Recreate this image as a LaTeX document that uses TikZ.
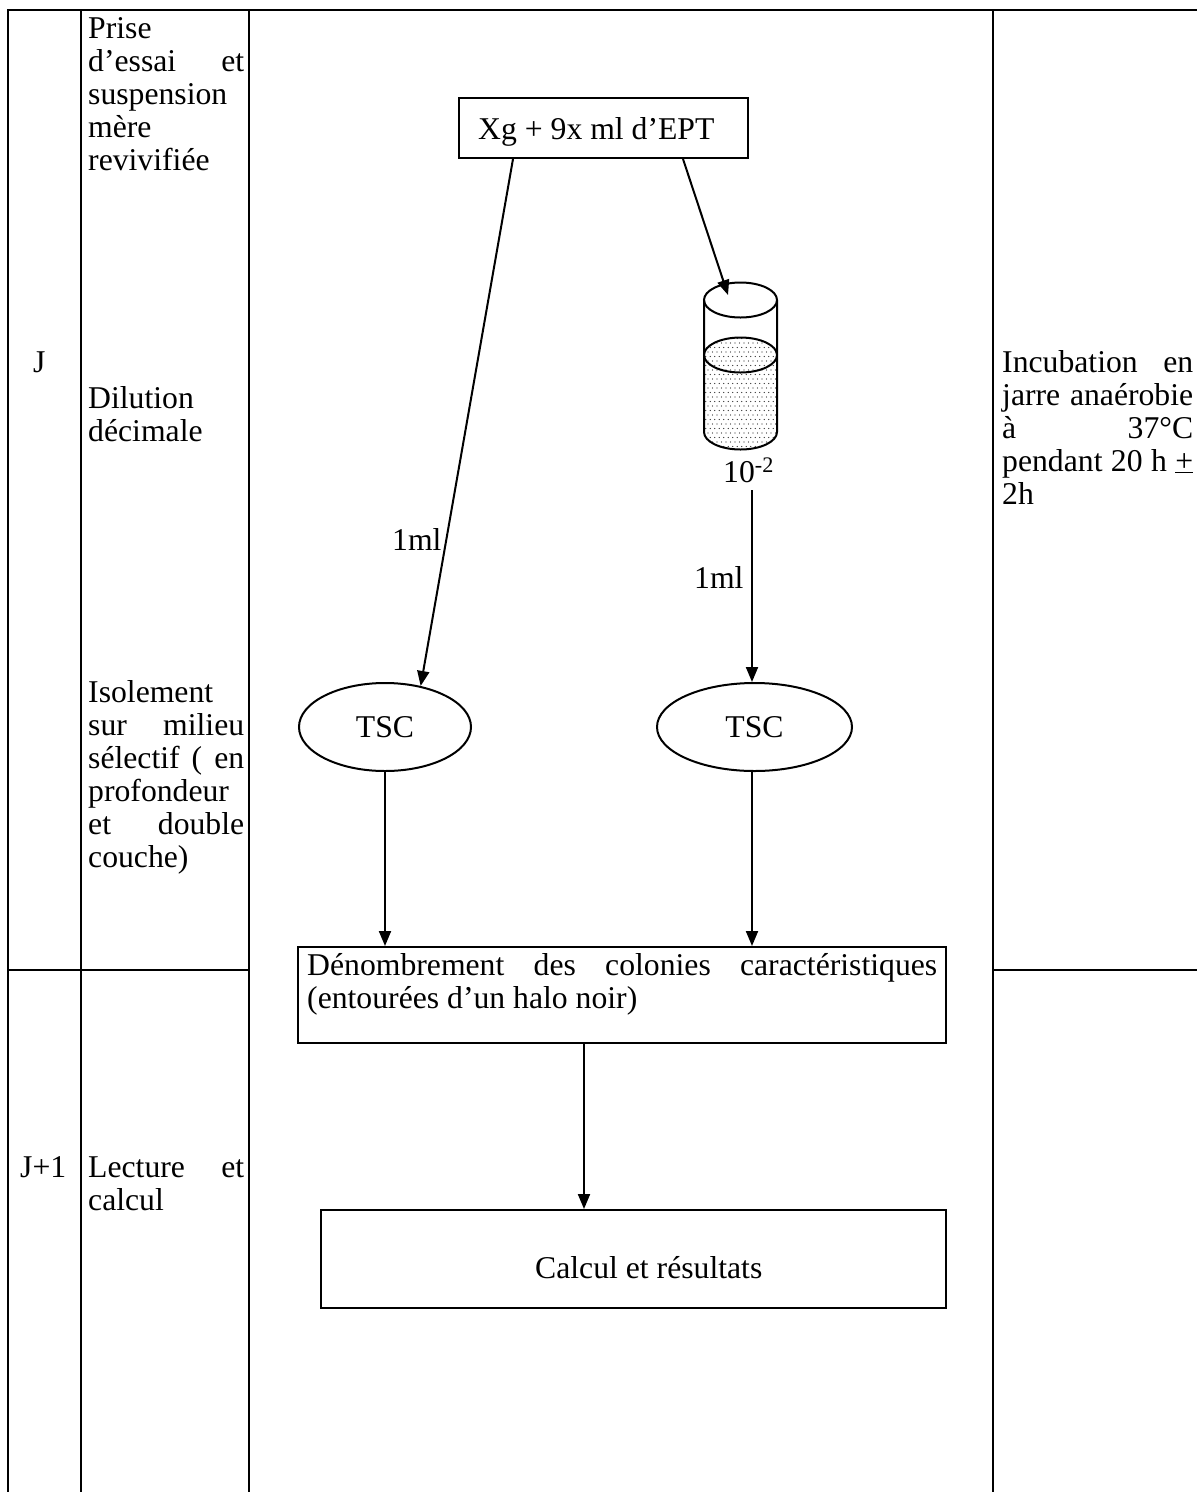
\documentclass[tikz,border=0pt]{standalone}
\usepackage{fontspec}
\setmainfont{Liberation Serif}
\usetikzlibrary{arrows.meta,shapes.geometric}
\newcommand\bodysize{\fontsize{31.7pt}{33pt}\selectfont}

\begin{document}
\begin{tikzpicture}[x=1pt,y=-1pt,
  rule/.style={line width=2.6pt},
  box/.style={draw,line width=2pt,inner sep=0pt},
  oval/.style={draw,ellipse,line width=2pt,inner sep=0pt,minimum height=88pt,font=\bodysize},
  arr/.style={line width=2pt,-{Triangle[length=15pt,width=12pt]}},
  txt/.style={anchor=base west,inner sep=0pt,font=\bodysize},
  tube/.style={line width=2pt},
]
\useasboundingbox (0,0) rectangle (1197,1492);

% table frame
\draw[rule] (8,1492) -- (8,10) -- (1197,10);
\draw[rule] (81,10) -- (81,1492);
\draw[rule] (249,10) -- (249,1492);
\draw[rule] (993,10) -- (993,1492);
\draw[rule] (8,970) -- (249,970);
\draw[rule] (993,970) -- (1197,970);

% day column
\node[txt] (dj)  at (33,372)  {J};
\node[txt] (dj1) at (20,1177) {J+1};

% step column
\node[txt] (s1) at (88,38)  {Prise};
\node[txt] (s2) at (88,71)  {\makebox[156pt][s]{d’essai et}};
\node[txt] (s3) at (88,104) {suspension};
\node[txt] (s4) at (88,137) {mère};
\node[txt] (s5) at (88,170) {revivifiée};
\node[txt] (s6) at (88,408) {Dilution};
\node[txt] (s7) at (88,441) {décimale};
\node[txt] (s8)  at (88,702) {Isolement};
\node[txt] (s9)  at (88,735) {\makebox[156pt][s]{sur milieu}};
\node[txt] (s10) at (88,768) {\makebox[156pt][s]{sélectif ( en}};
\node[txt] (s11) at (88,801) {profondeur};
\node[txt] (s12) at (88,834) {\makebox[156pt][s]{et double}};
\node[txt] (s13) at (88,867) {couche)};
\node[txt] (s14) at (88,1177) {\makebox[156pt][s]{Lecture et}};
\node[txt] (s15) at (88,1210) {calcul};

% conditions column
\node[txt] (r1) at (1002,372) {\makebox[191pt][s]{Incubation en}};
\node[txt] (r2) at (1002,405) {\makebox[191pt][s]{jarre anaérobie}};
\node[txt] (r3) at (1002,438) {\makebox[191pt][s]{à 37°C}};
\node[txt] (r4) at (1002,471) {\makebox[191pt][s]{pendant 20 h \underline{+}}};
\node[txt] (r5) at (1002,504) {2h};

% flow chart
\node[box,minimum width=289pt,minimum height=60pt] (src) at (603.5,128) {};
\node[txt] (srct) at (478,139) {Xg + 9x ml d’EPT};

% dilution tube
\begin{scope}
  \clip (704,355) -- (704,432) arc[start angle=180,end angle=360,x radius=36.5pt,y radius=17.5pt]
        -- (777,355) arc[start angle=0,end angle=180,x radius=36.5pt,y radius=17.5pt] -- cycle;
  \foreach \i in {0,...,19}
    \foreach \j in {0,...,27}
      \fill[black!85] ({699+\i*4.5+mod(\j,2)*2.25},{334+\j*4.5}) circle (0.7pt);
\end{scope}
\draw[tube] (704,300) -- (704,432) arc[start angle=180,end angle=360,x radius=36.5pt,y radius=17.5pt] -- (777,300);
\draw[tube] (740.5,300) ellipse [x radius=36.5pt,y radius=17.5pt];
\draw[tube] (740.5,355) ellipse [x radius=36.5pt,y radius=17.5pt];
\coordinate (tubein) at (728,295);
\node[txt] (dil) at (723,482) {10\textsuperscript{-2}};
\coordinate (tubeout) at (752,490);

\node[oval,minimum width=172pt] (tscA) at (385,727) {TSC};
\node[oval,minimum width=195pt] (tscB) at (754.5,727) {TSC};

\node[txt] (mlA) at (392,550) {1ml};
\node[txt] (mlB) at (694,588) {1ml};

\node[box,minimum width=648pt,minimum height=96pt] (count) at (622,995) {};
\node[txt] (ct1) at (307,975) {\makebox[630pt][s]{Dénombrement des colonies caractéristiques}};
\node[txt] (ct2) at (307,1008) {(entourées d’un halo noir)};

\node[box,minimum width=625pt,minimum height=98pt] (result) at (633.5,1259) {};
\node[txt] (rest) at (535,1278) {Calcul et résultats};

% connectors
\draw[arr] ([xshift=-90.5pt]src.south) -- (tscA.49);
\draw[arr] ([xshift=79.5pt]src.south) -- (tubein);
\draw[arr] (tubeout) -- (tubeout |- tscB.north);
\draw[arr] (tscA.south) -- (tscA.south |- count.north);
\coordinate (bdown) at ([xshift=-2.5pt]tscB.south);
\draw[arr] (bdown) -- (bdown |- count.north);
\coordinate (cdown) at ([xshift=-38pt]count.south);
\draw[arr] (cdown) -- (cdown |- result.north);
\end{tikzpicture}
\end{document}
